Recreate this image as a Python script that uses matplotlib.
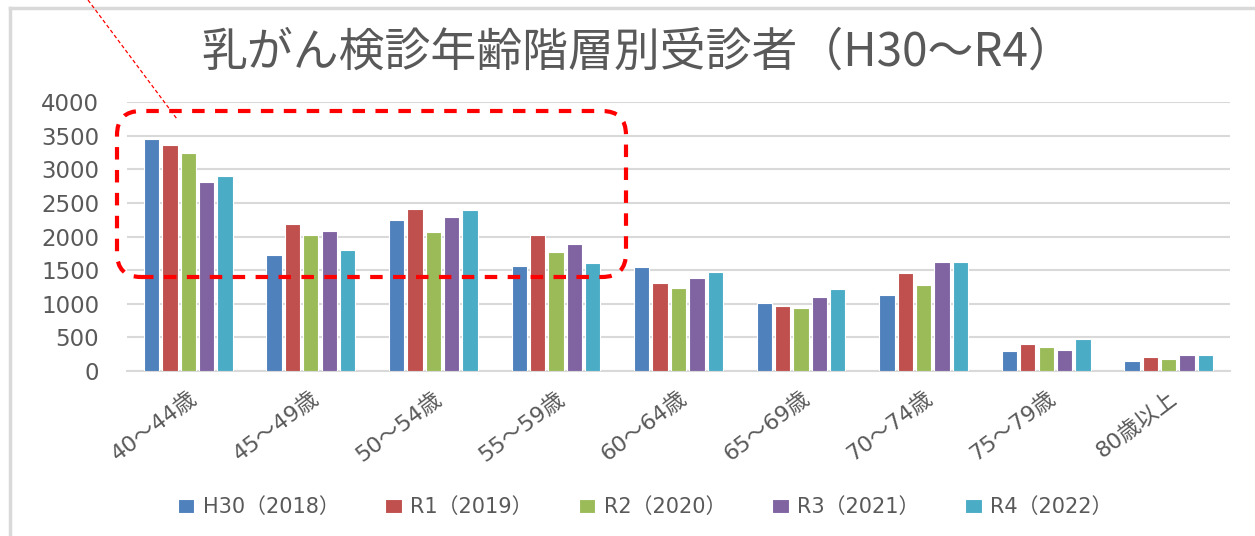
import matplotlib.pyplot as plt
import numpy as np
from matplotlib.patches import FancyBboxPatch
from matplotlib.lines import Line2D

plt.rcParams['font.family'] = ['DejaVu Sans', 'Noto Sans CJK JP']

# data
age_groups = ["40～44歳", "45～49歳", "50～54歳", "55～59歳", "60～64歳",
              "65～69歳", "70～74歳", "75～79歳", "80歳以上"]
series_names = ["H30（2018）", "R1（2019）", "R2（2020）", "R3（2021）", "R4（2022）"]
h30 = [3450, 1720, 2250, 1560, 1540, 1015, 1125, 295, 155]
r1 = [3355, 2180, 2410, 2020, 1305, 965, 1455, 400, 210]
r2 = [3235, 2020, 2070, 1775, 1230, 930, 1280, 350, 175]
r3 = [2815, 2075, 2290, 1885, 1390, 1105, 1615, 310, 245]
r4 = [2900, 1795, 2390, 1600, 1475, 1215, 1615, 475, 245]
colors = ["#4F81BD", "#C0504D", "#9BBB59", "#8064A2", "#4BACC6"]

W, H = 1255, 536
fig = plt.figure(figsize=(W / 100, H / 100), dpi=100)
ax = fig.add_axes([127 / W, 1 - 371 / H, (1230 - 127) / W, (371 - 102) / H])

text_gray = "#595959"
x = np.arange(len(age_groups))
step = 0.15
for j, (vals, name, c) in enumerate(zip([h30, r1, r2, r3, r4], series_names, colors)):
    ax.bar(x + (j - 2) * step, vals, width=0.125, color=c, edgecolor="white",
           linewidth=0.8, label=name, zorder=3)

ax.set_xlim(-0.5, len(age_groups) - 0.5)
ax.set_ylim(0, 4000)
ax.set_yticks(np.arange(0, 4001, 500))
ax.yaxis.grid(True, color="#d9d9d9", linewidth=1.5, zorder=0)
for s in ["top", "right", "left"]:
    ax.spines[s].set_visible(False)
ax.spines["bottom"].set_color("#d9d9d9")
ax.spines["bottom"].set_linewidth(1.5)
ax.tick_params(axis="y", length=0, pad=20, labelsize=16.5, labelcolor=text_gray)
ax.tick_params(axis="x", length=0, pad=12, labelsize=16, labelcolor=text_gray)
ax.set_xticks(x)
ax.set_xticklabels(age_groups, rotation=37, ha="right", rotation_mode="anchor")

fig.text(0.508, 1 - 52 / H, "乳がん検診年齢階層別受診者（H30～R4）", ha="center", va="center",
         fontsize=33, color=text_gray, family=['Noto Sans CJK JP', 'DejaVu Sans'])

leg = fig.legend(loc="center", bbox_to_anchor=(0.514, 1 - 507 / H), ncol=5, frameon=False,
                 handlelength=0.8, handleheight=0.65, handletextpad=0.4, columnspacing=2.2,
                 prop={'size': 15})
for t in leg.get_texts():
    t.set_color(text_gray)

# chart frame (left and top edges only are visible)
fig.lines.append(Line2D([10 / 100, 10 / 100], [-0.1, (H - 8) / 100], transform=fig.dpi_scale_trans,
                        color="#d9d9d9", linewidth=2.5))
fig.lines.append(Line2D([10 / 100, W / 100 + 0.1], [(H - 8) / 100, (H - 8) / 100],
                        transform=fig.dpi_scale_trans, color="#d9d9d9", linewidth=2.5))

# red dashed highlight box
box = FancyBboxPatch((117 / 100, (H - 277) / 100), (626 - 117) / 100, (277 - 111) / 100,
                     boxstyle="round,pad=0,rounding_size=0.24", transform=fig.dpi_scale_trans,
                     fill=False, edgecolor="#FF0000", linewidth=3, linestyle=(0, (3, 2.5)), zorder=10)
fig.patches.append(box)
fig.lines.append(Line2D([88 / 100, 177 / 100], [(H - 0) / 100, (H - 119) / 100],
                        transform=fig.dpi_scale_trans, color="#FF0000", linewidth=0.9,
                        linestyle=(0, (3, 2))))

fig.savefig("out.png", dpi=100)
